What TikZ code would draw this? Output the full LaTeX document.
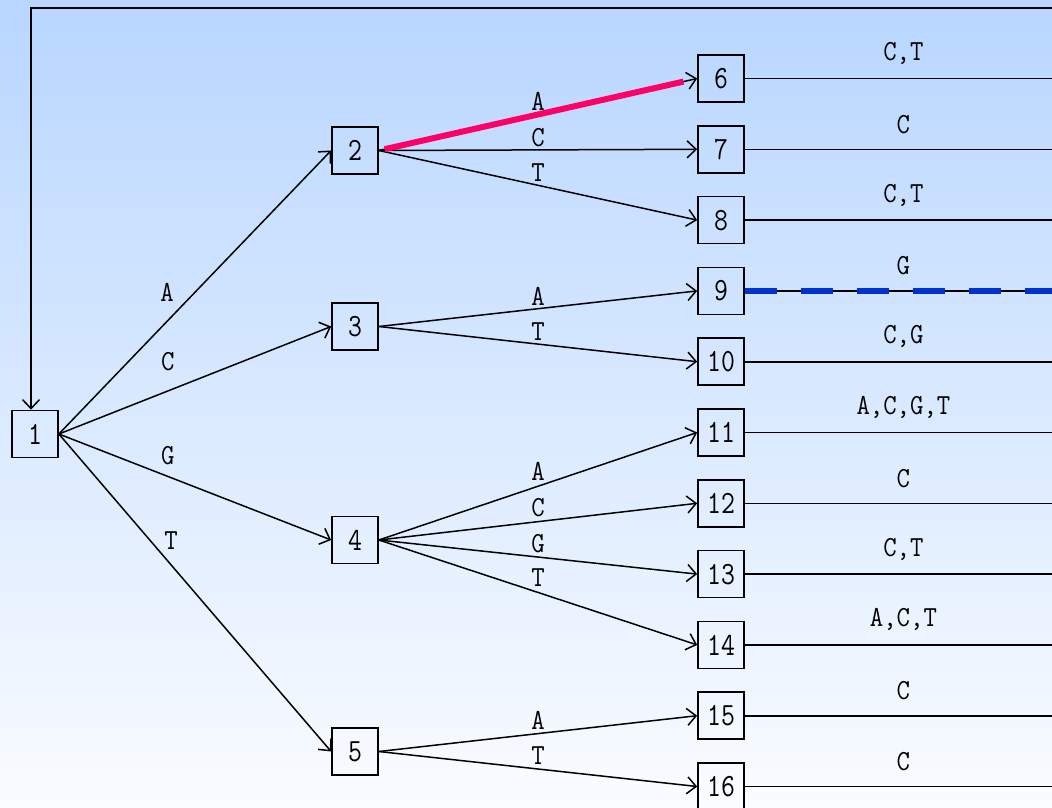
\documentclass[tikz,border=0pt]{standalone}
\usepackage{graphicx}
\usetikzlibrary{arrows.meta}
\definecolor{bgtop}{RGB}{184,214,255}
\definecolor{bgbot}{RGB}{250,252,255}
\definecolor{hotpink}{RGB}{255,0,102}
\definecolor{pathblue}{RGB}{0,51,204}
% slightly tall typewriter lettering
\newcommand\numtxt[1]{\scalebox{1}[1.2]{#1}}
\newcommand\lbltxt[1]{\scalebox{1}[1.12]{#1}}
\begin{document}
\begin{tikzpicture}[x=1pt,y=-1pt,
  box/.style={draw=black,fill=none,line width=1.7pt,minimum width=46pt,minimum height=47pt,
    inner sep=0pt,font=\fontsize{27}{27}\selectfont\ttfamily},
  lbl/.style={inner sep=0pt,font=\fontsize{26}{26}\selectfont\ttfamily},
  edge/.style={line width=1.5pt,-{Straight Barb[length=9pt,width=17pt]}},
  tail/.style={line width=1.6pt},
]
% background
\useasboundingbox (0,0) rectangle (1052,808);
\shade[top color=bgtop,bottom color=bgbot] (0,0) rectangle (1052,808);

% nodes
\node[box] (n1) at (35,434) {\numtxt{1}};
\node[box] (n2) at (355,150.5) {\numtxt{2}};
\node[box] (n3) at (355,326.5) {\numtxt{3}};
\node[box] (n4) at (355,540) {\numtxt{4}};
\node[box] (n5) at (355,751.5) {\numtxt{5}};
\foreach \k [count=\i from 0] in {6,...,16}
  \node[box] (n\k) at (721,78.5+70.8*\i) {\numtxt{\k}};

% loop back into node 1
\coordinate (topR) at (1062,8);
\coordinate (topL) at (31,8);
\draw[edge] (topR) -- (topL) -- (topL |- n1.north);

% first level
\draw[edge] (n1.east) -- node[lbl,pos=.397,yshift=29pt]{\lbltxt{A}} (n2.west);
\draw[edge] (n1.east) -- node[lbl,pos=.40,yshift=29pt]{\lbltxt{C}} (n3.west);
\draw[edge] (n1.east) -- node[lbl,pos=.40,yshift=21pt]{\lbltxt{G}} (n4.west);
\draw[edge] (n1.east) -- node[lbl,pos=.412,yshift=24pt]{\lbltxt{T}} (n5.west);

% second level
\draw[edge] (n2.east) -- node[lbl,midway,yshift=13pt]{\lbltxt{A}} (n6.west);
\draw[edge] (n2.east) -- node[lbl,midway,yshift=12pt]{\lbltxt{C}} (n7.west);
\draw[edge] (n2.east) -- node[lbl,midway,yshift=13pt]{\lbltxt{T}} (n8.west);
\draw[edge] (n3.east) -- node[lbl,midway,yshift=12pt]{\lbltxt{A}} (n9.west);
\draw[edge] (n3.east) -- node[lbl,midway,yshift=12pt]{\lbltxt{T}} (n10.west);
\draw[edge] (n4.east) -- node[lbl,midway,yshift=15pt]{\lbltxt{A}} (n11.west);
\draw[edge] (n4.east) -- node[lbl,midway,yshift=14pt]{\lbltxt{C}} (n12.west);
\draw[edge] (n4.east) -- node[lbl,midway,yshift=13pt]{\lbltxt{G}} (n13.west);
\draw[edge] (n4.east) -- node[lbl,midway,yshift=15pt]{\lbltxt{T}} (n14.west);
\draw[edge] (n5.east) -- node[lbl,midway,yshift=13pt]{\lbltxt{A}} (n15.west);
\draw[edge] (n5.east) -- node[lbl,midway,yshift=13pt]{\lbltxt{T}} (n16.west);

% leaf tails running off to the right
\foreach \k/\t in {6/{C,T},7/C,8/{C,T},9/G,10/{C,G},11/{A,C,G,T},12/C,13/{C,T},14/{A,C,T},15/C,16/C}{
  \coordinate (e\k) at (1062,0 |- n\k.east);
  \draw[tail] (n\k.east) -- node[lbl,midway,yshift=25pt]{\lbltxt{\t}} (e\k);
}

% highlighted branches
\draw[hotpink,line width=6pt,shorten <=6pt,shorten >=14pt] (n2.east) -- (n6.west);
\draw[pathblue,line width=6.5pt,dash pattern=on 32pt off 24pt] (n9.east) -- (e9);
\end{tikzpicture}
\end{document}
